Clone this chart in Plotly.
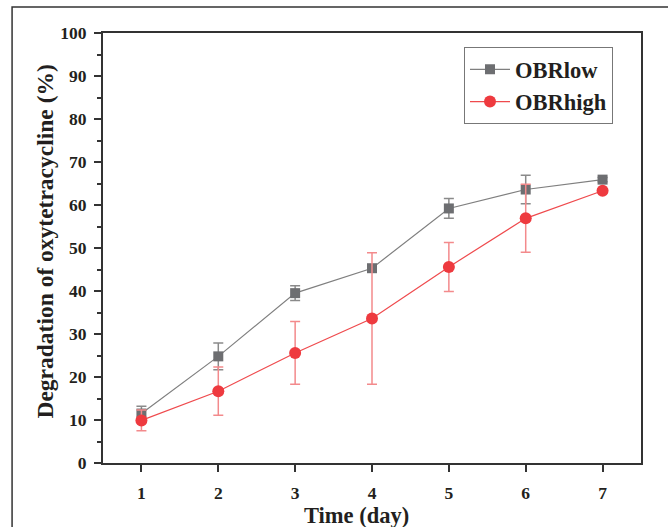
import plotly.graph_objects as go

days = [1, 2, 3, 4, 5, 6, 7]
obr_low = [11.5, 24.8, 39.5, 45.3, 59.2, 63.6, 65.9]
obr_low_err = [1.7, 3.1, 1.7, 0.8, 2.3, 3.3, 0.5]
obr_high = [9.9, 16.7, 25.6, 33.6, 45.6, 56.9, 63.3]
obr_high_err = [2.4, 5.6, 7.3, 15.3, 5.7, 7.9, 0.5]
y_ticks = [0, 10, 20, 30, 40, 50, 60, 70, 80, 90, 100]

FONT = "Liberation Serif"
TXT = "#231f20"

fig = go.Figure()
fig.add_trace(go.Scatter(
    x=days, y=obr_low, name="OBRlow", mode="lines+markers",
    line=dict(color="#7f7f7f", width=1.2),
    marker=dict(symbol="square", size=10, color="#6d6e71"),
    error_y=dict(type="data", array=obr_low_err, visible=True,
                 color="#8a8a8a", thickness=1.5, width=5),
))
fig.add_trace(go.Scatter(
    x=days, y=obr_high, name="OBRhigh", mode="lines+markers",
    line=dict(color="#ef4a4d", width=1.2),
    marker=dict(symbol="circle", size=12, color="#ee3a3f"),
    error_y=dict(type="data", array=obr_high_err, visible=True,
                 color="#f38a8c", thickness=1.5, width=5),
))

axis_common = dict(
    showline=True, linecolor="#333333", linewidth=1.8, mirror=True,
    ticks="outside", tickcolor="#333333", tickwidth=1.5, ticklen=7,
    showgrid=False, zeroline=False,
    tickfont=dict(family=FONT, size=17.5, color=TXT, weight="bold"),
)
fig.update_xaxes(range=[0.5, 7.5], tickvals=days, ticklabelstandoff=6, **axis_common)
fig.update_yaxes(range=[0, 100], tickvals=y_ticks, ticklabelstandoff=4,
                 minor=dict(ticks="outside", ticklen=4, tickcolor="#333333",
                            tickwidth=1.5, dtick=5),
                 **axis_common)

fig.update_layout(
    width=668, height=527,
    margin=dict(l=103, r=27, t=33, b=64),
    plot_bgcolor="white", paper_bgcolor="white",
    showlegend=True,
    legend=dict(x=0.671, y=0.967, xanchor="left", yanchor="top",
                bordercolor="#777777", borderwidth=1, bgcolor="white",
                font=dict(family=FONT, size=22.5, color=TXT, weight="bold"),
                tracegroupgap=0, itemwidth=40),
    annotations=[
        dict(text="<b>Time (day)</b>", xref="paper", yref="paper",
             x=0.472, y=-0.122, xanchor="center", yanchor="middle",
             showarrow=False, font=dict(family=FONT, size=22.5, color=TXT)),
        dict(text="<b>Degradation of oxytetracycline (%)</b>", xref="paper", yref="paper",
             x=-0.107, y=0.516, xanchor="center", yanchor="middle", textangle=-90,
             showarrow=False, font=dict(family=FONT, size=23.5, color=TXT)),
    ],
    shapes=[dict(type="rect", xref="paper", yref="paper",
                 x0=-0.169, y0=-0.3, x1=1.2, y1=1.0605,
                 line=dict(color="#333333", width=1.5), layer="below")],
)

fig.write_html("out.html", config={"displayModeBar": False},
               post_script="document.body.style.margin='0';")
